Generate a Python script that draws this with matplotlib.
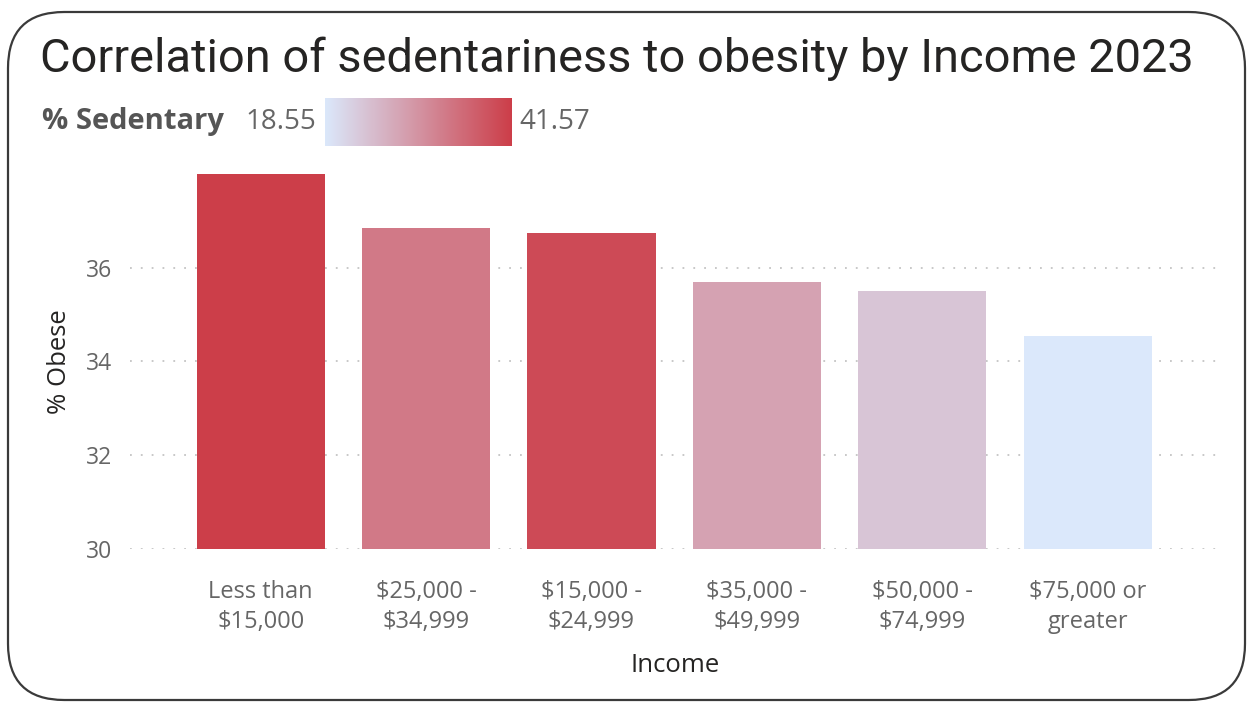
import numpy as np
import matplotlib.pyplot as plt
from matplotlib.colors import LinearSegmentedColormap, Normalize
from matplotlib.patches import FancyBboxPatch

# dados
income = ['Less than\n$15,000', '$25,000 -\n$34,999', '$15,000 -\n$24,999',
          '$35,000 -\n$49,999', '$50,000 -\n$74,999', '$75,000 or\ngreater']
pct_obese = [38.0, 36.84, 36.75, 35.70, 35.51, 34.55]
pct_sedentary = [41.57, 33.5, 39.9, 28.0, 23.4, 18.55]
sed_min, sed_max = 18.55, 41.57
y_ticks = [30, 32, 34, 36]

low_color = '#dbe8fb'
high_color = '#cc3e49'
text_gray = '#666666'
dark = '#252423'

cmap = LinearSegmentedColormap.from_list('sed', [low_color, high_color])
norm = Normalize(sed_min, sed_max)

fig = plt.figure(figsize=(12.5, 7.09), dpi=100)
fig.patch.set_facecolor('white')

# cartão com cantos arredondados
card = FancyBboxPatch((8 / 1250, 9 / 709), 1237 / 1250, 688 / 709,
                      boxstyle='round,pad=0,rounding_size=0.045',
                      transform=fig.transFigure, facecolor='white',
                      edgecolor='#3a3a3a', linewidth=1.6,
                      mutation_aspect=1250 / 709, zorder=-10)
fig.patches.append(card)

ax = fig.add_axes([0.104, 0.2257, 0.872, 0.529])
ax.patch.set_alpha(0)
x = np.arange(len(income))
ax.bar(x, [v - 30 for v in pct_obese], bottom=30, width=0.775,
       color=cmap(norm(pct_sedentary)), zorder=3)
ax.set_xlim(-0.79, 5.8)
ax.set_ylim(30, 38.0)
ax.set_yticks(y_ticks)
ax.yaxis.grid(True, linestyle=(0, (1, 5)), color='#c4c4c4', linewidth=1.3, zorder=0)
ax.set_xticks(x)
ax.set_xticklabels(income, fontsize=17, color=text_gray, family='Open Sans',
                   linespacing=1.35)
ax.tick_params(axis='both', length=0)
ax.tick_params(axis='x', pad=22)
ax.tick_params(axis='y', labelsize=16.5, labelcolor=text_gray, pad=13)
for lbl in ax.get_yticklabels():
    lbl.set_family('Open Sans')
for s in ax.spines.values():
    s.set_visible(False)
ax.set_xlabel('Income', fontsize=18.5, color=dark, family='Open Sans', labelpad=14)
ax.set_ylabel('% Obese', fontsize=18.5, color=dark, family='Open Sans', labelpad=10)

# título
fig.text(40 / 1250, 1 - 59 / 709, 'Correlation of sedentariness to obesity by Income 2023',
         fontsize=33.8, color=dark, family='Roboto', va='center', ha='left')

# legenda de gradiente
fig.text(42 / 1250, 1 - 122 / 709, '% Sedentary', fontsize=21, fontweight='bold',
         color='#555555', family='Open Sans', va='center', ha='left')
fig.text(245 / 1250, 1 - 122 / 709, f'{sed_min:.2f}', fontsize=20,
         color=text_gray, family='Open Sans', va='center', ha='left')
fig.text(519 / 1250, 1 - 122 / 709, f'{sed_max:.2f}', fontsize=20,
         color=text_gray, family='Open Sans', va='center', ha='left')
cax = fig.add_axes([325 / 1250, 1 - 146 / 709, 187 / 1250, 48 / 709])
cax.imshow(np.linspace(0, 1, 256)[None, :], aspect='auto', cmap=cmap)
cax.axis('off')

fig.savefig('out.png', dpi=100, facecolor='white')
